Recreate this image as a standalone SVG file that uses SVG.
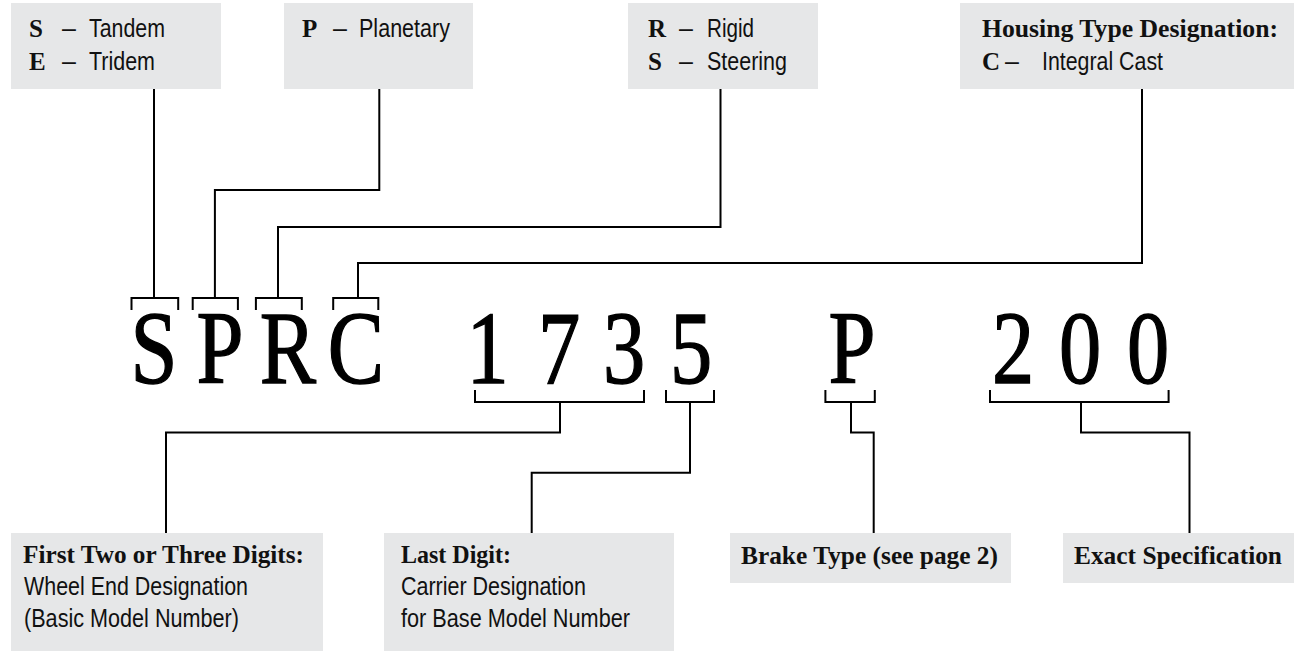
<svg xmlns="http://www.w3.org/2000/svg" width="1296" height="651" viewBox="0 0 1296 651">
<style>
.box{fill:#e6e7e8;stroke:none}
.ln{fill:none;stroke:#000;stroke-width:2;stroke-linejoin:miter;stroke-linecap:butt}
.sans{font-family:"Liberation Sans Narrow","Liberation Sans",Arial,sans-serif;font-size:25px;fill:#111}
.bs{font-family:"Liberation Serif","Times New Roman",serif;font-weight:bold;font-size:25px;fill:#111}
.big{font-family:"Liberation Serif","Times New Roman",serif;font-size:103px;fill:#000;stroke:#000;stroke-width:1.4;text-anchor:middle}
</style>
<rect width="1296" height="651" fill="#fff"/>

<g id="connectors">
  <path class="ln" d="M131.5,310 V298 H178.2 V310"/>
  <path class="ln" d="M192.7,310 V298 H237.9 V310"/>
  <path class="ln" d="M255.9,310 V298 H301.8 V310"/>
  <path class="ln" d="M333.2,310 V298 H378.3 V310"/>
  <path class="ln" d="M154,88.5 V298"/>
  <path class="ln" d="M379.3,88.5 V190 H214.9 V298"/>
  <path class="ln" d="M720.5,88.5 V227 H278 V298"/>
  <path class="ln" d="M1142,88.5 V263 H358 V298"/>
  <path class="ln" d="M475,390 V402 H644 V390"/>
  <path class="ln" d="M666,390 V402 H714 V390"/>
  <path class="ln" d="M825.4,390 V402 H874.8 V390"/>
  <path class="ln" d="M990,390 V402 H1168.6 V390"/>
  <path class="ln" d="M560,402 V432.5 H166 V533.5"/>
  <path class="ln" d="M690,402 V472.7 H531.7 V533.5"/>
  <path class="ln" d="M851,402 V432.5 H873.7 V533.5"/>
  <path class="ln" d="M1081,402 V432.5 H1189.5 V533.5"/>
</g>

<g id="code">
  <text class="big" transform="translate(154,383) scale(0.82,1)">S</text>
  <text class="big" transform="translate(220,383) scale(0.82,1)">P</text>
  <text class="big" transform="translate(288,383) scale(0.82,1)">R</text>
  <text class="big" transform="translate(356,383) scale(0.82,1)">C</text>
  <text class="big" transform="translate(487.5,383) scale(0.82,1)">1</text>
  <text class="big" transform="translate(559,383) scale(0.82,1)">7</text>
  <text class="big" transform="translate(624,383) scale(0.82,1)">3</text>
  <text class="big" transform="translate(691,383) scale(0.82,1)">5</text>
  <text class="big" transform="translate(852,383) scale(0.82,1)">P</text>
  <text class="big" transform="translate(1013,383) scale(0.82,1)">2</text>
  <text class="big" transform="translate(1080,383) scale(0.82,1)">0</text>
  <text class="big" transform="translate(1148,383) scale(0.82,1)">0</text>
</g>

<g id="node-axle">
  <rect class="box" x="11" y="3" width="210" height="86"/>
  <text class="bs" x="29" y="37">S</text>
  <text class="sans" x="62" y="37">–</text>
  <text class="sans" x="89" y="37" textLength="76" lengthAdjust="spacingAndGlyphs">Tandem</text>
  <text class="bs" x="29" y="70">E</text>
  <text class="sans" x="62" y="70">–</text>
  <text class="sans" x="89" y="70" textLength="66" lengthAdjust="spacingAndGlyphs">Tridem</text>
</g>

<g id="node-planetary">
  <rect class="box" x="284" y="3" width="189" height="86"/>
  <text class="bs" x="302" y="37">P</text>
  <text class="sans" x="333" y="37">–</text>
  <text class="sans" x="359" y="37" textLength="91" lengthAdjust="spacingAndGlyphs">Planetary</text>
</g>

<g id="node-rigid">
  <rect class="box" x="628" y="3" width="190" height="86"/>
  <text class="bs" x="648" y="37">R</text>
  <text class="sans" x="679" y="37">–</text>
  <text class="sans" x="707" y="37" textLength="47" lengthAdjust="spacingAndGlyphs">Rigid</text>
  <text class="bs" x="648" y="70">S</text>
  <text class="sans" x="679" y="70">–</text>
  <text class="sans" x="707" y="70" textLength="80" lengthAdjust="spacingAndGlyphs">Steering</text>
</g>

<g id="node-housing">
  <rect class="box" x="960" y="3" width="334" height="86"/>
  <text class="bs" x="982" y="37" textLength="296" lengthAdjust="spacingAndGlyphs">Housing Type Designation:</text>
  <text class="bs" x="982" y="70">C</text>
  <text class="sans" x="1005" y="70">–</text>
  <text class="sans" x="1042" y="70" textLength="121" lengthAdjust="spacingAndGlyphs">Integral Cast</text>
</g>

<g id="node-first-digits">
  <rect class="box" x="11" y="533" width="312" height="118"/>
  <text class="bs" x="23" y="563" textLength="281" lengthAdjust="spacingAndGlyphs">First Two or Three Digits:</text>
  <text class="sans" x="24" y="595" textLength="224" lengthAdjust="spacingAndGlyphs">Wheel End Designation</text>
  <text class="sans" x="24" y="627" textLength="215" lengthAdjust="spacingAndGlyphs">(Basic Model Number)</text>
</g>

<g id="node-last-digit">
  <rect class="box" x="384" y="533" width="290" height="118"/>
  <text class="bs" x="401" y="563" textLength="110" lengthAdjust="spacingAndGlyphs">Last Digit:</text>
  <text class="sans" x="401" y="595" textLength="185" lengthAdjust="spacingAndGlyphs">Carrier Designation</text>
  <text class="sans" x="401" y="627" textLength="229" lengthAdjust="spacingAndGlyphs">for Base Model Number</text>
</g>

<g id="node-brake">
  <rect class="box" x="730" y="533" width="281" height="50"/>
  <text class="bs" x="741" y="564" textLength="257" lengthAdjust="spacingAndGlyphs">Brake Type (see page 2)</text>
</g>

<g id="node-spec">
  <rect class="box" x="1063" y="533" width="231" height="50"/>
  <text class="bs" x="1074" y="564" textLength="208" lengthAdjust="spacingAndGlyphs">Exact Specification</text>
</g>
</svg>
